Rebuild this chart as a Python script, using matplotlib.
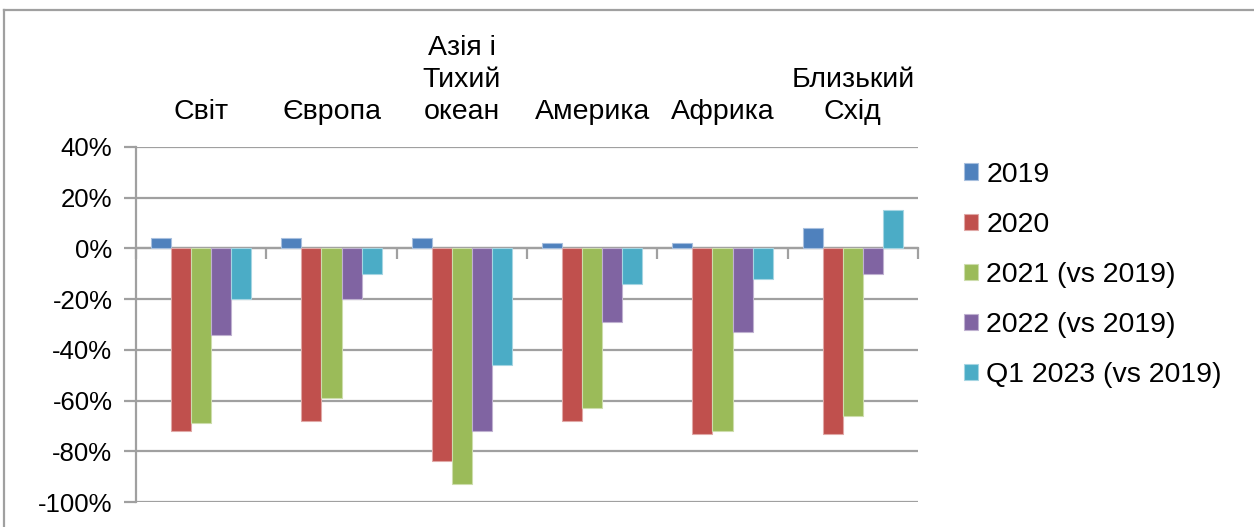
import numpy as np
import matplotlib
matplotlib.use("Agg")
from matplotlib import pyplot as plt
from matplotlib.lines import Line2D

plt.rcParams['font.family'] = ['Liberation Sans', 'DejaVu Sans']

# Datos
regions = ["Світ", "Європа", "Азія і\nТихий\nокеан", "Америка", "Африка", "Близький\nСхід"]
series = ["2019", "2020", "2021 (vs 2019)", "2022 (vs 2019)", "Q1 2023 (vs 2019)"]
v2019 = [4, 4, 4, 2, 2, 8]
v2020 = [-72, -68, -84, -68, -73, -73]
v2021 = [-69, -59, -93, -63, -72, -66]
v2022 = [-34, -20, -72, -29, -33, -10]
vq1_2023 = [-20, -10, -46, -14, -12, 15]
yticks = [40, 20, 0, -20, -40, -60, -80, -100]

colors = ["#4F81BD", "#C0504D", "#9BBB59", "#8064A2", "#4BACC6"]
edges = ["#A7BFDE", "#E0A8A6", "#CDDDAC", "#BFB1D0", "#A5D5E2"]

W, H = 1254, 527
fig = plt.figure(figsize=(W / 100, H / 100), dpi=100)
ax = fig.add_axes([136 / W, (H - 502) / H, (918 - 136) / W, (502 - 147) / H])

x = np.arange(len(regions))
bw = 1 / 6.5
for i, vals in enumerate([v2019, v2020, v2021, v2022, vq1_2023]):
    ax.bar(x + (i - 2) * bw, vals, bw, color=colors[i], edgecolor=edges[i],
           linewidth=0.8, label=series[i], zorder=3)

ax.set_xlim(-0.5, len(regions) - 0.5)
ax.set_ylim(-100, 40)
ax.set_yticks(yticks)
ax.set_yticklabels([f"{v}%" for v in yticks], fontsize=18.5)
ax.yaxis.grid(True, color="#A0A0A0", linewidth=1.6, zorder=0)
ax.tick_params(axis='y', direction='out', length=9, width=1.6, color="#A0A0A0", pad=8)

# eje x en el cero con marcas entre categorías
ax.spines['bottom'].set_position(('data', 0))
ax.spines['bottom'].set_color("#A0A0A0")
ax.spines['bottom'].set_linewidth(1.6)
ax.spines['left'].set_color("#A0A0A0")
ax.spines['left'].set_linewidth(1.6)
ax.spines['top'].set_visible(False)
ax.spines['right'].set_visible(False)
ax.set_xticks(np.arange(len(regions) + 1) - 0.5)
ax.set_xticklabels([])
ax.tick_params(axis='x', direction='out', length=8, width=1.6, color="#A0A0A0")

# etiquetas de categoría arriba
sec = ax.secondary_xaxis('top')
sec.set_xticks(x)
sec.set_xticklabels(regions, fontsize=20.5, linespacing=1.3)
sec.tick_params(axis='x', length=0, pad=16)
sec.spines['top'].set_visible(False)

# leyenda
fig.legend(loc='upper left', bbox_to_anchor=(938 / W, 1 - 136 / H), frameon=False,
           fontsize=20.5, handlelength=0.5, handleheight=0.5, handletextpad=0.3,
           labelspacing=0.85)

# marco exterior
fig.add_artist(Line2D([4 / W, 4 / W], [0, 1 - 10 / H], color="#A0A0A0", linewidth=1.6))
fig.add_artist(Line2D([4 / W, 1], [1 - 10 / H, 1 - 10 / H], color="#A0A0A0", linewidth=1.6))

fig.savefig("out.png", dpi=100)
